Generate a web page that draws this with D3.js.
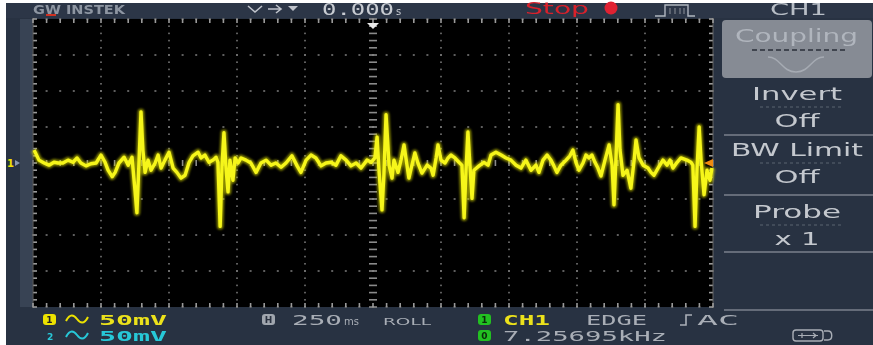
<!DOCTYPE html>
<html><head><meta charset="utf-8">
<script src="https://cdn.jsdelivr.net/npm/d3@7"></script>
<style>html,body{margin:0;padding:0;background:#fff;overflow:hidden}</style>
</head><body><svg id="scope" width="873" height="345"></svg>
<script>
// CH1 capture, roll mode, 250 ms/div, 50 mV/div (time relative to trigger point)
const timeMs = [-1246,-1228,-1209,-1191,-1173,-1158,-1140,-1121,-1103,-1088,-1074,-1055,-1037,-1018,-1000,-985,-974,-959,-948,-934,-915,-900,-886,-875,-868,-860,-853,-846,-838,-827,-816,-801,-790,-779,-765,-750,-735,-721,-706,-691,-676,-662,-643,-632,-618,-603,-588,-577,-570,-562,-555,-548,-540,-533,-526,-515,-507,-496,-485,-467,-449,-430,-412,-393,-375,-357,-338,-320,-298,-279,-265,-246,-228,-210,-191,-173,-154,-136,-118,-99,-81,-62,-44,-22,-7,7,15,22,33,40,48,59,70,77,92,103,114,125,132,143,154,165,180,199,213,221,232,239,250,265,276,287,301,316,327,335,342,349,357,364,371,390,408,423,434,452,471,489,507,526,544,562,581,599,610,625,640,654,665,676,691,710,724,735,746,757,772,783,794,805,816,827,838,853,868,879,886,893,901,908,919,934,948,960,967,978,993,1011,1022,1033,1048,1066,1081,1092,1103,1118,1132,1154,1169,1176,1184,1191,1199,1206,1217,1228,1239,1246];
const ch1mV = [18,4,0,-3,1,0,0,4,1,7,0,-4,-1,0,11,1,-10,-19,-13,0,8,-3,8,-38,-69,4,71,18,-13,4,-10,0,11,-7,4,15,-7,-13,-21,-17,1,10,15,7,11,1,4,8,1,-88,-3,42,-10,-40,4,-24,7,0,7,4,0,-13,0,4,-3,0,-6,0,10,-4,-13,4,11,7,-4,0,1,-3,10,4,-4,0,-7,4,1,7,36,-10,-65,-17,67,-3,-21,4,-13,4,25,-3,-21,-3,14,0,-14,-3,-7,-17,7,25,4,0,7,11,7,1,-3,-76,-10,43,-7,-49,-10,-4,1,-3,11,15,11,7,4,-3,-7,4,-10,-3,-13,4,11,4,-4,-13,-3,4,10,18,1,-10,0,11,7,11,1,-7,-18,4,25,-3,-58,4,81,18,-17,-10,-35,4,32,7,-3,-7,-13,-17,-7,4,-3,4,-7,1,7,4,1,-3,-88,-10,50,4,-44,-10,-24,-7];

const timeDivMs = 250, voltDivMv = 50, hDivs = 10, vDivs = 8;
const menuItems = [["Invert", "Off"], ["BW Limit", "Off"], ["Probe", "x 1"]];
const ch1Scale = "50mV", ch2Scale = "50mV";
const timebase = "250", timebaseUnit = "ms", modeLabel = "ROLL";
const trigSource = "CH1", trigType = "EDGE", trigCoupling = "AC", trigFreq = "7.25695kHz";
const hPos = "0.000", hUnit = "s";

const svg = d3.select("#scope");
const W = 873, H = 345;
const plot = {l: 33, r: 713, t: 19, b: 307};

const defs = svg.append("defs");
const glow = defs.append("filter").attr("id", "glow").attr("x", "-5%").attr("y", "-20%").attr("width", "110%").attr("height", "140%");
glow.append("feGaussianBlur").attr("stdDeviation", 1.2);
const soft = defs.append("filter").attr("id", "soft");
soft.append("feGaussianBlur").attr("stdDeviation", 0.5);
const txtSoft = defs.append("filter").attr("id", "txtSoft");
txtSoft.append("feGaussianBlur").attr("stdDeviation", 0.35);

// instrument body
svg.append("rect").attr("width", W).attr("height", H).attr("fill", "#ffffff");
svg.append("rect").attr("x", 6).attr("y", 3).attr("width", W - 6).attr("height", H - 3).attr("fill", "#283242");
svg.append("rect").attr("x", 20).attr("y", plot.t).attr("width", 12).attr("height", plot.b - plot.t).attr("fill", "#384354");
svg.append("rect").attr("x", 6).attr("y", 3).attr("width", W - 6).attr("height", 15).attr("fill", "#2c3647");

// screen
svg.append("rect").attr("x", plot.l).attr("y", plot.t).attr("width", plot.r - plot.l).attr("height", plot.b - plot.t).attr("fill", "#000");

const x = d3.scaleLinear().domain([-timeDivMs * hDivs / 2, timeDivMs * hDivs / 2]).range([plot.l, plot.r]);
const y = d3.scaleLinear().domain([-voltDivMv * vDivs / 2, voltDivMv * vDivs / 2]).range([plot.b, plot.t]);

const g = svg.append("g").attr("filter", "url(#soft)");
const majorT = d3.range(-1250, 1250.1, timeDivMs);
const majorV = d3.range(-200, 200.1, voltDivMv);
const minorT = d3.range(-1250, 1250.1, timeDivMs / 5);
const minorV = d3.range(-200, 200.1, voltDivMv / 5);
const dotCol = "#747474";

// dotted graticule
majorT.forEach(t => {
  if (t === 0 || Math.abs(t) === 1250) return;
  g.selectAll(null).data(minorV).enter().append("rect")
    .attr("x", x(t) - 0.8).attr("y", v => y(v) - 0.8).attr("width", 1.6).attr("height", 1.6).attr("fill", dotCol);
});
majorV.forEach(v => {
  if (v === 0) return;
  g.selectAll(null).data(minorT).enter().append("rect")
    .attr("x", t => x(t) - 1).attr("y", y(v) - 0.8).attr("width", 2).attr("height", 1.6).attr("fill", dotCol);
});
// centre axes with tick marks
g.selectAll(null).data(minorV).enter().append("rect")
  .attr("x", x(0) - 4).attr("y", v => y(v) - 0.8).attr("width", 8).attr("height", 1.6).attr("fill", "#8a8a8a");
g.selectAll(null).data(minorT).enter().append("rect")
  .attr("x", t => x(t) - 0.8).attr("y", y(0) - 3).attr("width", 1.6).attr("height", 6).attr("fill", "#8a8a8a");
// frame ticks
[-1250, 1250].forEach(t => {
  const dir = t < 0 ? 1 : -1;
  g.selectAll(null).data(minorV).enter().append("rect")
    .attr("x", dir > 0 ? x(t) : x(t) - 4).attr("y", v => y(v) - 0.8).attr("width", 4).attr("height", 1.6).attr("fill", "#9a9a9a");
  g.append("line").attr("x1", x(t)).attr("x2", x(t)).attr("y1", plot.t).attr("y2", plot.b).attr("stroke", "#666").attr("stroke-width", 1);
});
[-200, 200].forEach(v => {
  g.selectAll(null).data(minorT).enter().append("rect")
    .attr("x", t => x(t) - 0.8).attr("y", v < 0 ? y(v) - 4 : y(v)).attr("width", 1.6).attr("height", 4).attr("fill", "#9a9a9a");
});

// CH1 trace
const data = timeMs.map((t, i) => [t, ch1mV[i]]);
const line = d3.line().x(d => x(d[0])).y(d => y(d[1]));
svg.append("path").datum(data).attr("d", line).attr("fill", "none")
  .attr("stroke", "#e0e000").attr("stroke-width", 6.5).attr("stroke-opacity", 0.6)
  .attr("stroke-linejoin", "round").attr("filter", "url(#glow)");
svg.append("path").datum(data).attr("d", line).attr("fill", "none")
  .attr("stroke", "#f6f61a").attr("stroke-width", 3.4).attr("stroke-linejoin", "round");

// markers: trigger position, trigger level, channel ground
svg.append("path").attr("d", `M${x(0) - 6},23 L${x(0) + 6},23 L${x(0)},29 Z`).attr("fill", "#e8e8e8");
svg.append("path").attr("d", `M${plot.r - 9},${y(0)} L${plot.r},${y(0) - 4} L${plot.r},${y(0) + 4} Z`).attr("fill", "#f08a10");
svg.append("text").attr("x", 7).attr("y", y(0) + 4).attr("font-family", "DejaVu Sans").attr("font-weight", "bold")
  .attr("font-size", 10).attr("fill", "#f0e000").text("1");
svg.append("path").attr("d", `M15,${y(0) - 3} L20,${y(0)} L15,${y(0) + 3} Z`).attr("fill", "#8896b0");

const T = svg.append("g").attr("filter", "url(#txtSoft)");

// top status bar
const font = "DejaVu Sans";
T.append("text").attr("x", 33).attr("y", 14).attr("font-family", font).attr("font-weight", "bold")
  .attr("font-size", 11.5).attr("fill", "#8e96a2").attr("textLength", 92).attr("lengthAdjust", "spacingAndGlyphs").text("GW INSTEK");
T.append("rect").attr("x", 46).attr("y", 14).attr("width", 10).attr("height", 2).attr("fill", "#d03020");
const topIcons = T.append("g").attr("stroke", "#c0c4cc").attr("stroke-width", 1.6).attr("fill", "none");
topIcons.append("path").attr("d", "M248,6 L255,12 L262,6");
topIcons.append("path").attr("d", "M268,9 L281,9 M276,5 L281,9 L276,13");
T.append("path").attr("d", "M288,6 L298,6 L293,11 Z").attr("fill", "#c0c4cc");
T.append("text").attr("x", 322).attr("y", 15).attr("font-family", "DejaVu Sans Mono").attr("font-size", 16)
  .attr("fill", "#c8ccd2").attr("textLength", 72).attr("lengthAdjust", "spacingAndGlyphs").text(hPos);
T.append("text").attr("x", 396).attr("y", 15).attr("font-family", font).attr("font-size", 10).attr("fill", "#c8ccd2").text(hUnit);
T.append("text").attr("x", 525).attr("y", 14).attr("font-family", font).attr("font-size", 15)
  .attr("fill", "#d8202c").attr("textLength", 64).attr("lengthAdjust", "spacingAndGlyphs").text("Stop");
T.append("circle").attr("cx", 611).attr("cy", 8).attr("r", 6.5).attr("fill", "#e02030");
T.append("path").attr("d", "M655,16 L665,16 L665,5 L688,5 L688,16 L695,16").attr("fill", "none")
  .attr("stroke", "#b0b6c0").attr("stroke-width", 1.4);
T.append("path").attr("d", "M670,8 L670,14 M675,8 L675,14 M680,8 L680,14 M684,8 L684,14").attr("stroke", "#8a909a").attr("stroke-width", 1);
T.append("text").attr("x", 770).attr("y", 15).attr("font-family", font).attr("font-size", 15)
  .attr("fill", "#b8bec6").attr("textLength", 57).attr("lengthAdjust", "spacingAndGlyphs").text("CH1");

// side menu
const menu = svg.append("g").attr("filter", "url(#txtSoft)");
menu.append("rect").attr("x", 722).attr("y", 20).attr("width", 150).attr("height", 58).attr("rx", 4).attr("fill", "#868b94");
menu.append("text").attr("x", 735).attr("y", 42).attr("font-family", font).attr("font-size", 18)
  .attr("fill", "#b0b5bd").attr("textLength", 123).attr("lengthAdjust", "spacingAndGlyphs").text("Coupling");
menu.append("line").attr("x1", 752).attr("x2", 845).attr("y1", 50).attr("y2", 50).attr("stroke", "#2a2f38")
  .attr("stroke-width", 1.6).attr("stroke-dasharray", "5,3");
menu.append("path").attr("d", "M768,57 C780,57 782,72 796,72 C810,72 812,57 824,57").attr("fill", "none")
  .attr("stroke", "#a6abb3").attr("stroke-width", 1.5);
const rowTop = [85, 141, 203];
const labelW = [90, 132, 88], valueW = [45, 45, 45];
menuItems.forEach((m, i) => {
  const yy = rowTop[i];
  menu.append("text").attr("x", 797 - labelW[i] / 2).attr("y", yy + 15).attr("font-family", font)
    .attr("font-size", 18).attr("fill", "#c4c8ce").attr("textLength", labelW[i]).attr("lengthAdjust", "spacingAndGlyphs").text(m[0]);
  menu.append("line").attr("x1", 760).attr("x2", 842).attr("y1", yy + 22).attr("y2", yy + 22).attr("stroke", "#5a6270")
    .attr("stroke-width", 1).attr("stroke-dasharray", "3,3");
  menu.append("text").attr("x", 797 - valueW[i] / 2).attr("y", yy + 42).attr("font-family", font)
    .attr("font-size", 18).attr("fill", "#c4c8ce").attr("textLength", valueW[i]).attr("lengthAdjust", "spacingAndGlyphs").text(m[1]);
});
[135, 195, 252, 310].forEach(yy => {
  menu.append("line").attr("x1", 724).attr("x2", W).attr("y1", yy).attr("y2", yy).attr("stroke", "#7a818c").attr("stroke-width", 1.6);
});

// bottom status bar
const mono = "DejaVu Sans Mono";
function badge(x0, y0, fill, label, txtFill) {
  T.append("rect").attr("x", x0).attr("y", y0).attr("width", 13).attr("height", 11).attr("rx", 3).attr("fill", fill);
  T.append("text").attr("x", x0 + 6.5).attr("y", y0 + 9).attr("text-anchor", "middle").attr("font-family", font)
    .attr("font-weight", "bold").attr("font-size", 9).attr("fill", txtFill).text(label);
}
function tilde(x0, yc, col) {
  T.append("path").attr("d", `M${x0},${yc + 2} C${x0 + 4},${yc - 6} ${x0 + 8},${yc - 4} ${x0 + 11},${yc} C${x0 + 14},${yc + 4} ${x0 + 18},${yc + 6} ${x0 + 22},${yc - 2}`)
    .attr("fill", "none").attr("stroke", col).attr("stroke-width", 2);
}
badge(43, 314, "#ece200", "1", "#222");
tilde(66, 319, "#ece200");
T.append("text").attr("x", 99).attr("y", 325).attr("font-family", mono).attr("font-weight", "bold").attr("font-size", 14)
  .attr("fill", "#ece21a").attr("textLength", 68).attr("lengthAdjust", "spacingAndGlyphs").text(ch1Scale);
T.append("text").attr("x", 47).attr("y", 340).attr("font-family", font).attr("font-weight", "bold").attr("font-size", 9)
  .attr("fill", "#28c8d8").text("2");
tilde(66, 335, "#28c8d8");
T.append("text").attr("x", 99).attr("y", 341).attr("font-family", mono).attr("font-weight", "bold").attr("font-size", 14)
  .attr("fill", "#28c8d8").attr("textLength", 68).attr("lengthAdjust", "spacingAndGlyphs").text(ch2Scale);

badge(262, 314, "#a0a6ae", "H", "#2a3040");
const grey = "#a9aeb6";
T.append("text").attr("x", 292).attr("y", 325).attr("font-family", mono).attr("font-size", 14).attr("fill", grey)
  .attr("textLength", 50).attr("lengthAdjust", "spacingAndGlyphs").text(timebase);
T.append("text").attr("x", 344).attr("y", 325).attr("font-family", font).attr("font-size", 10).attr("fill", grey).text(timebaseUnit);
T.append("text").attr("x", 383).attr("y", 325).attr("font-family", font).attr("font-size", 9).attr("fill", grey)
  .attr("textLength", 48).attr("lengthAdjust", "spacingAndGlyphs").text(modeLabel);

badge(478, 314, "#22c020", "1", "#0a2a0a");
T.append("text").attr("x", 503).attr("y", 325).attr("font-family", mono).attr("font-weight", "bold").attr("font-size", 14)
  .attr("fill", "#ece21a").attr("textLength", 47).attr("lengthAdjust", "spacingAndGlyphs").text(trigSource);
T.append("text").attr("x", 586).attr("y", 325).attr("font-family", mono).attr("font-size", 14).attr("fill", grey)
  .attr("textLength", 61).attr("lengthAdjust", "spacingAndGlyphs").text(trigType);
T.append("path").attr("d", "M680,325 L686,325 L686,315 L692,315").attr("fill", "none").attr("stroke", grey).attr("stroke-width", 1.6);
T.append("text").attr("x", 697).attr("y", 325).attr("font-family", mono).attr("font-size", 14).attr("fill", grey)
  .attr("textLength", 42).attr("lengthAdjust", "spacingAndGlyphs").text(trigCoupling);
badge(478, 330, "#22c020", "0", "#0a2a0a");
T.append("text").attr("x", 503).attr("y", 341).attr("font-family", mono).attr("font-size", 14).attr("fill", grey)
  .attr("textLength", 164).attr("lengthAdjust", "spacingAndGlyphs").text(trigFreq);

// USB indicator
T.append("rect").attr("x", 793).attr("y", 330).attr("width", 30).attr("height", 11).attr("rx", 3)
  .attr("fill", "none").attr("stroke", grey).attr("stroke-width", 1.4);
T.append("path").attr("d", "M798,335.5 L818,335.5 M802,333 L802,338 M813,333 L816,335.5 L813,338").attr("stroke", grey).attr("stroke-width", 1.2).attr("fill", "none");
T.append("path").attr("d", "M824,331 L828,331 C833,331 833,340 828,340 L824,340").attr("fill", "none").attr("stroke", grey).attr("stroke-width", 1.4);
</script></body></html>
